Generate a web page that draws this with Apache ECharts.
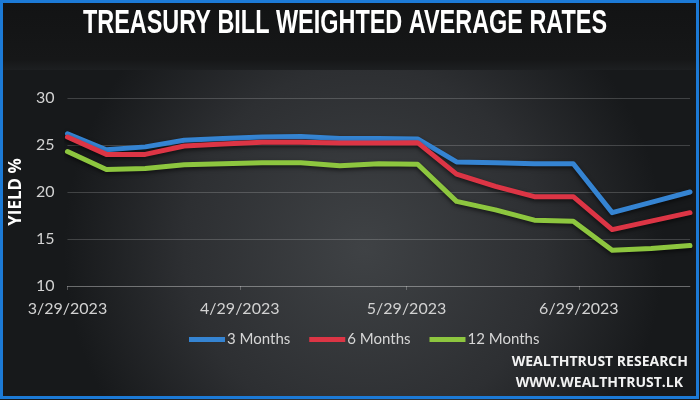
<!DOCTYPE html>
<html>
<head>
<meta charset="utf-8">
<script src="https://cdn.jsdelivr.net/npm/echarts@6/dist/echarts.min.js"></script>
<style>
html,body{margin:0;padding:0;background:#1a1c1e;}
#chart{width:700px;height:400px;}
</style>
</head>
<body>
<div id="chart"></div>
<script>
// Auction dates (weekly)
const dates = ['2023-03-29','2023-04-05','2023-04-12','2023-04-19','2023-04-26','2023-05-03','2023-05-10','2023-05-17','2023-05-24','2023-05-31','2023-06-07','2023-06-14','2023-06-21','2023-06-28','2023-07-05','2023-07-12','2023-07-19'];
const months3  = [26.2, 24.5, 24.8, 25.5, 25.7, 25.85, 25.9, 25.7, 25.7, 25.65, 23.2, 23.1, 23.0, 23.0, 17.8, 18.9, 20.0];
const months6  = [25.85, 24.0, 24.0, 24.9, 25.1, 25.3, 25.3, 25.2, 25.2, 25.25, 21.9, 20.6, 19.5, 19.5, 16.0, 16.9, 17.8];
const months12 = [24.3, 22.4, 22.5, 22.9, 23.0, 23.1, 23.1, 22.8, 23.0, 22.95, 19.0, 18.1, 17.0, 16.9, 13.8, 14.0, 14.3];
const seriesNames = ['3 Months', '6 Months', '12 Months'];
const xTickDates = ['2023-03-29','2023-04-29','2023-05-29','2023-06-29'];
const yTicks = [10, 15, 20, 25, 30];
const titleText = 'TREASURY BILL WEIGHTED AVERAGE RATES';
const footer1 = 'WEALTHTRUST RESEARCH';
const footer2 = 'WWW.WEALTHTRUST.LK';

const DAY = 86400000;
function utc(s){ const p = s.split('-').map(Number); return Date.UTC(p[0], p[1]-1, p[2]); }
const origin = utc(dates[0]);
function dayOf(s){ return Math.round((utc(s) - origin) / DAY); }
function pairs(vals){ return dates.map((d,i)=>[dayOf(d), vals[i]]); }
function fmtDay(v){ const d = new Date(origin + v*DAY); return (d.getUTCMonth()+1)+'/'+d.getUTCDate()+'/'+d.getUTCFullYear(); }

const colors = ['#3584d2', '#dc3545', '#8dc63f'];
const chart = echarts.init(document.getElementById('chart'), null, {renderer:'canvas'});

const lineStyleBase = {width:5, shadowColor:'rgba(0,0,0,0.6)', shadowBlur:4, shadowOffsetY:2, cap:'round', join:'round'};
const xTickVals = xTickDates.map(dayOf);

chart.setOption({
  animation:false,
  graphic:[
    {type:'rect', z:-100, shape:{x:0,y:0,width:700,height:400},
     style:{fill:{type:'radial', x:0.52, y:0.62, r:0.75, colorStops:[{offset:0,color:'#3f4245'},{offset:0.6,color:'#2d2f32'},{offset:1,color:'#17191b'}]}}},
    {type:'rect', z:-90, shape:{x:0,y:0,width:700,height:70},
     style:{fill:{type:'linear', x:0,y:0,x2:0,y2:1, colorStops:[{offset:0,color:'#121314'},{offset:0.85,color:'#161718'},{offset:1,color:'#1d1f21'}]}}},
    {type:'rect', z:100, shape:{x:1.5,y:1.5,width:696,height:396},
     style:{fill:null, stroke:'#1c7ad6', lineWidth:3}},
    {type:'text', z:100, x:345, y:24, scaleX:0.71, scaleY:1,
     style:{text:titleText, fill:'#ffffff', font:'bold 33px "Liberation Sans", sans-serif', align:'center', verticalAlign:'middle'}},
    {type:'text', z:100, x:688, y:362,
     style:{text:footer1, fill:'#f2f2f2', font:'bold 14px "Open Sans", sans-serif', align:'right', verticalAlign:'middle'}},
    {type:'text', z:100, x:683, y:383,
     style:{text:footer2, fill:'#f2f2f2', font:'bold 14px "Open Sans", sans-serif', align:'right', verticalAlign:'middle'}}
  ],
  grid:{left:63, right:10, top:98, bottom:114},
  legend:{
    data:seriesNames, left:184, top:327, icon:'rect', itemWidth:36, itemHeight:5, itemGap:19,
    textStyle:{color:'#d6d6d6', fontSize:15, fontFamily:'Lato, sans-serif', padding:[0,0,0,-3]}
  },
  xAxis:{
    type:'value', min:0, max:dayOf(dates[dates.length-1]),
    axisLine:{show:true, lineStyle:{color:'rgba(255,255,255,0.22)', width:1}},
    axisTick:{show:true, length:4, customValues:xTickVals, lineStyle:{color:'rgba(255,255,255,0.25)'}},
    splitLine:{show:false},
    axisLabel:{
      customValues:xTickVals, color:'#d2d2d2', fontSize:16, fontFamily:'Lato, sans-serif', margin:15,
      formatter:function(v){ return fmtDay(v); }
    }
  },
  yAxis:{
    type:'value', min:yTicks[0], max:yTicks[yTicks.length-1], interval:5,
    name:'YIELD %', nameLocation:'middle', nameRotate:90, nameGap:42,
    nameTextStyle:{color:'#ffffff', fontWeight:'bold', fontSize:17, fontFamily:'"Open Sans", sans-serif'},
    axisLine:{show:false}, axisTick:{show:false},
    splitLine:{lineStyle:{color:'rgba(255,255,255,0.18)', width:1}},
    axisLabel:{color:'#d2d2d2', fontSize:16, fontFamily:'Lato, sans-serif', margin:13}
  },
  series:[
    {name:seriesNames[0], type:'line', data:pairs(months3), showSymbol:false, symbol:'none', color:colors[0], lineStyle:Object.assign({color:colors[0]}, lineStyleBase)},
    {name:seriesNames[1], type:'line', data:pairs(months6), showSymbol:false, symbol:'none', color:colors[1], lineStyle:Object.assign({color:colors[1]}, lineStyleBase)},
    {name:seriesNames[2], type:'line', data:pairs(months12), showSymbol:false, symbol:'none', color:colors[2], lineStyle:Object.assign({color:colors[2]}, lineStyleBase)}
  ]
});
</script>
</body>
</html>
